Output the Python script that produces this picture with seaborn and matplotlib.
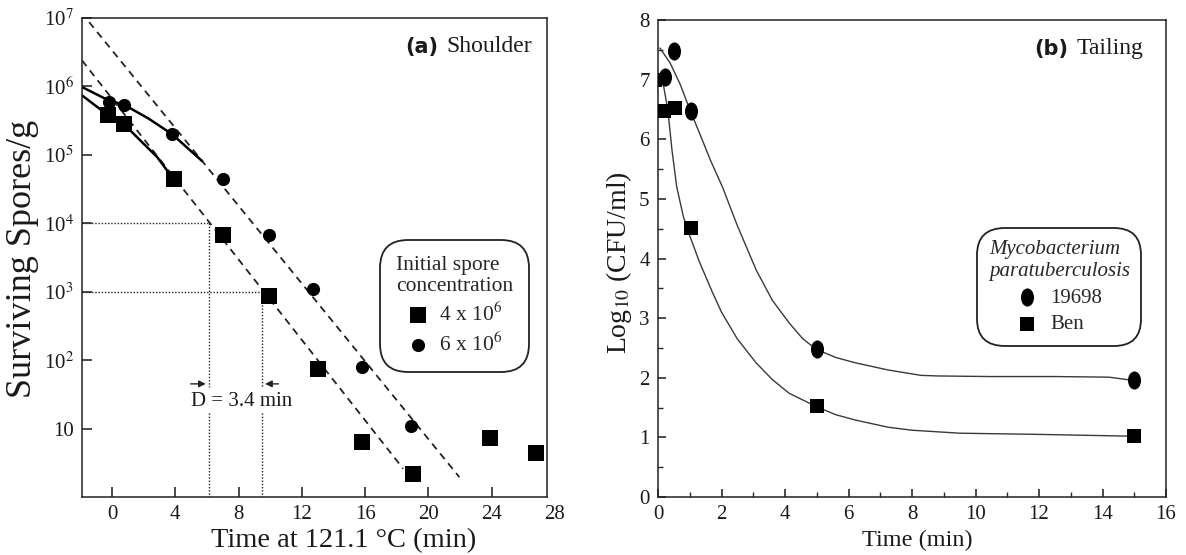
import numpy as np
import pandas as pd
import matplotlib
matplotlib.use("Agg")
import matplotlib.pyplot as plt
import seaborn as sns
from matplotlib.path import Path

# ---------------- data: panel (a) Shoulder ----------------
sq_time = [-0.25, 0.76, 3.9, 7.0, 9.9, 13.0, 15.8, 19.0, 23.9, 26.8]
sq_count = [3.8e5, 2.8e5, 4.4e4, 6.7e3, 870, 74, 6.3, 2.2, 7.2, 4.4]
ci_time = [-0.2, 0.76, 3.8, 7.0, 9.9, 12.7, 15.8, 18.9]
ci_count = [5.9e5, 5.4e5, 2.0e5, 4.4e4, 6.8e3, 1.1e3, 80, 10.8]

# fitted shoulder curves
sq_fit_time = [-1.9, -0.25, 0.76, 1.96, 2.85, 3.86]
sq_fit_count = [7.4e5, 3.8e5, 2.8e5, 1.48e5, 9.3e4, 4.5e4]
ci_fit_time = [-1.9, -0.25, 0.76, 2.3, 3.8, 5.7]
ci_fit_count = [9.8e5, 6.3e5, 5.4e5, 3.4e5, 2.0e5, 8.1e4]

# log-linear (dashed) lines
lin_a_time = [-1.45, 21.96]
lin_a_count = [8.7e6, 1.95]
lin_b_time = [-1.9, 18.4]
lin_b_count = [2.4e6, 2.6]

# D-value construction
d_times = [6.1, 9.5]
d_levels = [1e4, 1e3]
d_arrow_y = 45
d_label = "D = 3.4 min"

a_xticks = [0, 4, 8, 12, 16, 20, 24]
a_yticks = [10, 1e2, 1e3, 1e4, 1e5, 1e6, 1e7]
a_yticklabels = ["10", "10$^2$", "10$^3$", "10$^4$", "10$^5$", "10$^6$", "10$^7$"]

# ---------------- data: panel (b) Tailing ----------------
e_time = [0.22, 0.5, 1.03, 5.0, 15.0]
e_log = [7.04, 7.48, 6.47, 2.48, 1.96]
b_time = [-0.1, 0.2, 0.53, 1.03, 5.0, 15.0]
b_log = [7.0, 6.47, 6.53, 4.51, 1.52, 1.02]

e_fit_time = [0.06, 0.38, 0.7, 1.0, 1.31, 1.65, 2.03, 2.5, 3.09, 3.6, 4.13, 4.55, 4.97,
              5.6, 6.22, 7.25, 8.28, 8.81, 10.5, 12.5, 14.2, 14.9]
e_fit_log = [7.53, 7.28, 6.92, 6.50, 6.10, 5.65, 5.20, 4.55, 3.81, 3.30, 2.92, 2.66, 2.48,
             2.34, 2.25, 2.13, 2.04, 2.03, 2.02, 2.02, 2.01, 1.96]
b_fit_time = [0.12, 0.16, 0.31, 0.44, 0.59, 0.8, 1.0, 1.3, 1.7, 2.0, 2.5, 3.09, 3.6, 4.13,
              4.97, 5.6, 6.22, 7.25, 8.0, 9.5, 12.0, 14.9]
b_fit_log = [7.05, 6.94, 6.49, 5.82, 5.20, 4.70, 4.38, 3.95, 3.45, 3.10, 2.65, 2.25, 1.97,
             1.74, 1.52, 1.38, 1.29, 1.17, 1.12, 1.07, 1.05, 1.02]

# ---------------- style ----------------
sns.set_theme(style="ticks")
plt.rcParams["font.family"] = ["Liberation Serif", "DejaVu Serif"]
plt.rcParams["mathtext.fontset"] = "stix"
plt.rcParams["axes.linewidth"] = 1.1
plt.rcParams["axes.edgecolor"] = "#222222"
TXT = "#1a1a1a"

fig = plt.figure(figsize=(11.86, 5.55), dpi=100)
axa = fig.add_axes([82 / 1186, 1 - 497 / 555, 465 / 1186, 479 / 555])
axb = fig.add_axes([658 / 1186, 1 - 497 / 555, 508 / 1186, 477 / 555])

# ---------------- panel (a) ----------------
axa.set_yscale("log")
df_sq = pd.DataFrame({"t": sq_time, "n": sq_count})
df_ci = pd.DataFrame({"t": ci_time, "n": ci_count})

sns.lineplot(x=lin_a_time, y=lin_a_count, ax=axa, color="#222222", lw=1.3,
             linestyle=(0, (4, 3)))
sns.lineplot(x=lin_b_time, y=lin_b_count, ax=axa, color="#222222", lw=1.3,
             linestyle=(0, (4, 3)))
sns.lineplot(x=sq_fit_time, y=sq_fit_count, ax=axa, color="black", lw=1.8, sort=False)
sns.lineplot(x=ci_fit_time, y=ci_fit_count, ax=axa, color="black", lw=1.8, sort=False)

sns.scatterplot(data=df_sq, x="t", y="n", ax=axa, marker="s", s=125, color="black",
                edgecolor="black", linewidth=0, label="4 x 10$^6$", zorder=5)
sns.scatterplot(data=df_ci, x="t", y="n", ax=axa, marker="o", s=90, color="black",
                edgecolor="black", linewidth=0, label="6 x 10$^6$", zorder=5)

xmin_a = -1.9
dot = (0, (1, 1.3))
for t, lev in zip(d_times, d_levels):
    axa.plot([xmin_a, t], [lev, lev], color="#222222", lw=1.0, linestyle=dot)
    axa.plot([t, t], [lev, 40], color="#222222", lw=1.0, linestyle=dot)
    axa.plot([t, t], [17, 1], color="#222222", lw=1.0, linestyle=dot)

axa.annotate("", xy=(d_times[0], d_arrow_y), xytext=(d_times[0] - 1.3, d_arrow_y),
             arrowprops=dict(arrowstyle="-|>", color="#222222", lw=1.0, mutation_scale=10))
axa.annotate("", xy=(d_times[1], d_arrow_y), xytext=(d_times[1] + 1.2, d_arrow_y),
             arrowprops=dict(arrowstyle="-|>", color="#222222", lw=1.0, mutation_scale=10))
axa.text(8.2, 24.6, d_label, ha="center", va="center", fontsize=15, color=TXT)

axa.set_xlim(xmin_a, 27.5)
axa.set_ylim(1, 1e7)
axa.set_xticks(a_xticks)
axa.set_yticks(a_yticks)
axa.set_yticklabels(a_yticklabels)
axa.minorticks_off()
axa.tick_params(direction="in", length=7, width=1.1, labelsize=15, colors=TXT, pad=6)
axa.annotate("28", xy=(28, 0), xycoords=("data", "axes fraction"), xytext=(0, -6),
             textcoords="offset points", ha="center", va="top", fontsize=15, color=TXT,
             annotation_clip=False)
axa.set_xlabel("Time at 121.1 °C (min)", fontsize=20.5, color=TXT)
axa.set_ylabel("Surviving Spores/g", fontsize=26, color=TXT)
axa.xaxis.set_label_coords(0.563, -0.064)
axa.yaxis.set_label_coords(-0.092, 0.497)

leg = axa.legend(title="Initial spore\nconcentration", loc="upper right",
                 bbox_to_anchor=(0.985, 0.56), fontsize=15.5, title_fontsize=15.5,
                 frameon=True, fancybox=True, borderpad=0.75, labelspacing=0.3,
                 handlelength=1.0, handletextpad=0.45, alignment="center")
leg.get_title().set_multialignment("left")
fr = leg.get_frame()
fr.set_boxstyle("round", pad=0.0, rounding_size=1.3)
fr.set_edgecolor("#222222")
fr.set_linewidth(1.3)
fr.set_alpha(1)

ta = axa.text(0.968, 0.94, "Shoulder", transform=axa.transAxes, ha="right", va="center",
              fontsize=17, color=TXT)

# ---------------- panel (b) ----------------
ell_base = Path.unit_circle()
ellipse = Path(ell_base.vertices * np.array([0.72, 1.0]), ell_base.codes)

df_e = pd.DataFrame({"t": e_time, "v": e_log})
df_b = pd.DataFrame({"t": b_time, "v": b_log})
sns.lineplot(x=e_fit_time, y=e_fit_log, ax=axb, color="#3a3a3a", lw=1.0, sort=False)
sns.lineplot(x=b_fit_time, y=b_fit_log, ax=axb, color="#3a3a3a", lw=1.0, sort=False)
sns.scatterplot(data=df_e, x="t", y="v", ax=axb, marker=ellipse, s=170, color="black",
                edgecolor="black", linewidth=0, label="19698", zorder=5)
sns.scatterplot(data=df_b, x="t", y="v", ax=axb, marker="s", s=95, color="black",
                edgecolor="black", linewidth=0, label="Ben", zorder=5)

axb.set_xlim(0, 16)
axb.set_ylim(0, 8)
axb.set_xticks(range(0, 17, 2))
axb.set_yticks(range(0, 9))
axb.set_xticks(range(1, 16, 2), minor=True)
axb.set_yticks(np.arange(0.5, 8, 1.0), minor=True)
axb.tick_params(which="major", direction="in", length=6, width=1.1, labelsize=15,
                colors=TXT, pad=6)
axb.tick_params(which="minor", direction="in", length=3.5, width=1.0)
axb.set_xlabel("Time (min)", fontsize=17.5, color=TXT)
axb.set_ylabel("Log$_{10}$ (CFU/ml)", fontsize=20, color=TXT)
axb.xaxis.set_label_coords(0.51, -0.068)
axb.yaxis.set_label_coords(-0.048, 0.492)

legb = axb.legend(title="Mycobacterium\nparatuberculosis", loc="upper right",
                  bbox_to_anchor=(0.972, 0.585), fontsize=15, title_fontsize=15,
                  frameon=True, fancybox=True, borderpad=0.55, labelspacing=0.35,
                  handlelength=1.0, handletextpad=0.6, alignment="center")
legb.get_title().set_multialignment("left")
legb.get_title().set_fontstyle("italic")
frb = legb.get_frame()
frb.set_boxstyle("round", pad=0.0, rounding_size=1.3)
frb.set_edgecolor("#222222")
frb.set_linewidth(1.3)
frb.set_alpha(1)

tb = axb.text(0.955, 0.94, "Tailing", transform=axb.transAxes, ha="right", va="center",
              fontsize=17, color=TXT)

for ax in (axa, axb):
    for sp in ax.spines.values():
        sp.set_visible(True)

# bold sans "(a)" / "(b)" placed before the serif words
fig.canvas.draw()
rend = fig.canvas.get_renderer()
for ax, t, lab in ((axa, ta, "(a)"), (axb, tb, "(b)")):
    bb = t.get_window_extent(rend)
    x0 = ax.transAxes.inverted().transform((bb.x0 - 8, 0))[0]
    ax.text(x0, 0.94, lab, transform=ax.transAxes, ha="right", va="center",
            fontsize=15, fontweight="bold", family=["DejaVu Sans"], color=TXT)

fig.savefig("out.png", dpi=100)
